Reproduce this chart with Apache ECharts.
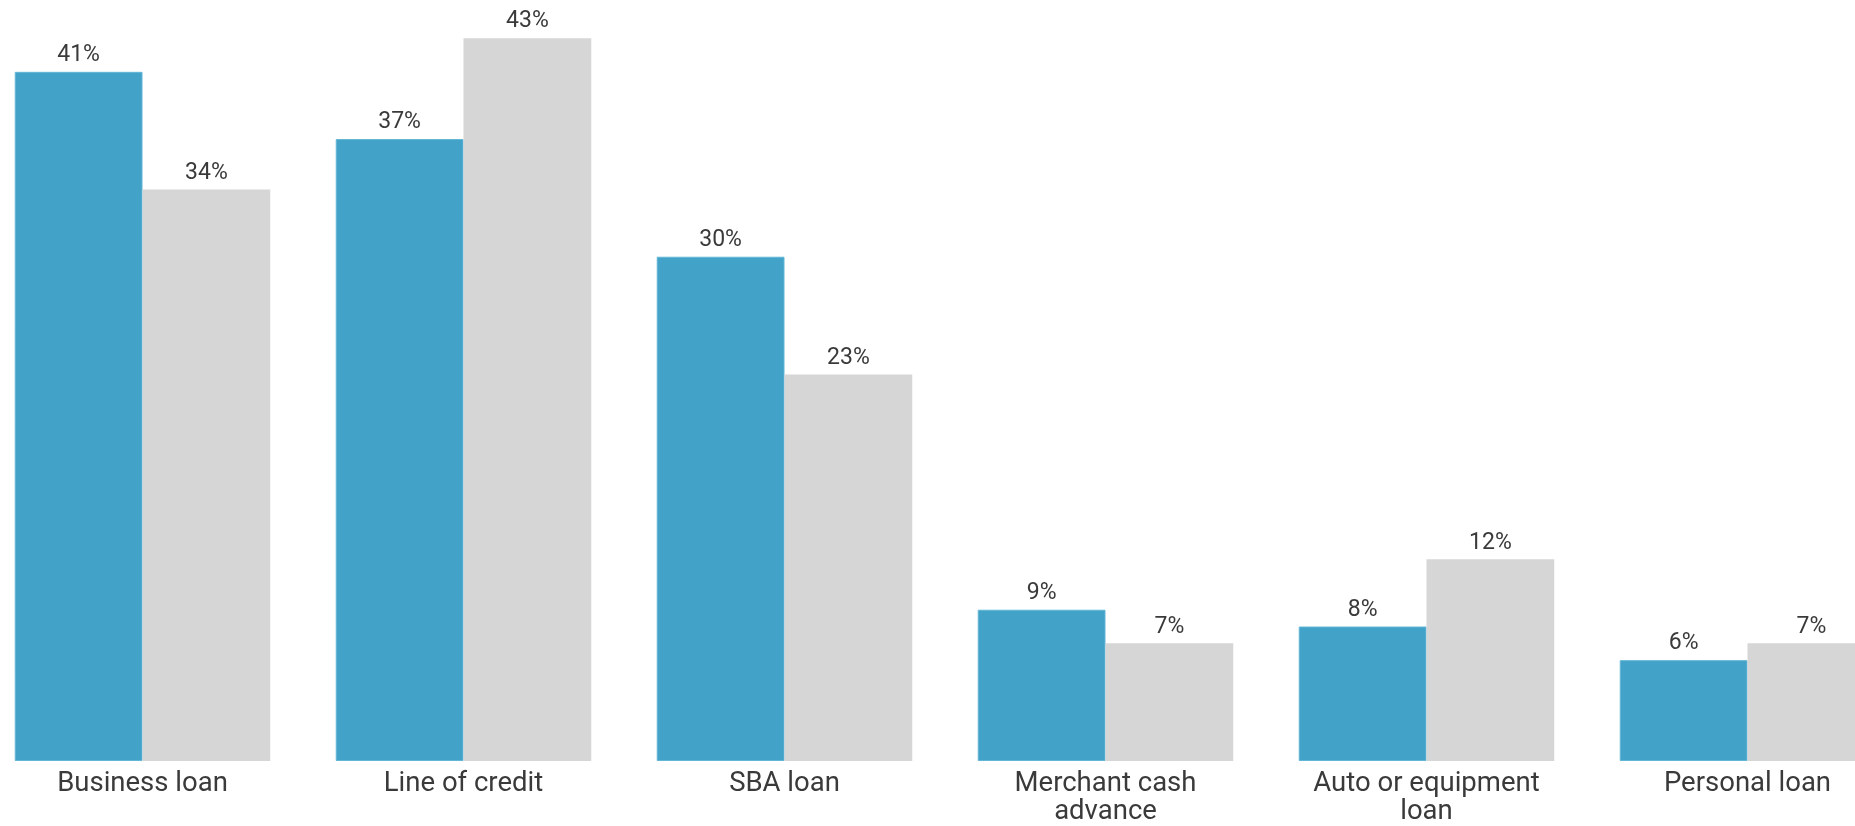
<!DOCTYPE html>
<html>
<head>
<meta charset="utf-8">
<script src="https://cdn.jsdelivr.net/npm/echarts@6/dist/echarts.min.js"></script>
<style>
	html,body{margin:0;padding:0;background:#fff;overflow:hidden;}
	/* the plot runs past both edges of the window, so the div is wider and shifted left */
	#chart{position:absolute;left:-18.5px;top:0;width:1926px;height:826px;}
</style>
</head>
<body>
<div id="chart"></div>
<script>
// categories and values
var categories = ['Business loan','Line of credit','SBA loan','Merchant cash\nadvance','Auto or equipment\nloan','Personal loan'];
var blueValues = [41,37,30,9,8,6];
var grayValues = [34,43,23,7,12,7];

function showBars(div){
	var myChart = echarts.init(div);
	var labelStyle = {
		show: true,
		position: 'top',
		distance: 5,
		formatter: '{c}%',
		color: '#3a3a3a',
		fontFamily: 'Roboto',
		fontSize: 23
	};
	var option = {
		animation: false,
		grid: {
			left: 0,
			right: 0,
			top: 4.6,
			bottom: 64
		},
		xAxis: {
			type: 'category',
			data: categories,
			axisLine: {show: false},
			axisTick: {show: false},
			axisLabel: {
				color: '#3a3a3a',
				fontFamily: 'Roboto',
				fontSize: 27.5,
				lineHeight: 28,
				margin: 9,
				interval: 0
			}
		},
		yAxis: {
			type: 'value',
			min: 0,
			max: 45,
			show: false
		},
		series: [{
			name: 'blue',
			type: 'bar',
			data: blueValues,
			barGap: '0%',
			barCategoryGap: '20.4%',
			itemStyle: {color: '#42a2c7', borderColor: '#62b6d6', borderWidth: 1},
			label: labelStyle
		},{
			name: 'gray',
			type: 'bar',
			data: grayValues,
			itemStyle: {color: '#d6d6d6'},
			label: labelStyle
		}]
	};
	myChart.setOption(option);
}

showBars(document.getElementById('chart'));
</script>
</body>
</html>
